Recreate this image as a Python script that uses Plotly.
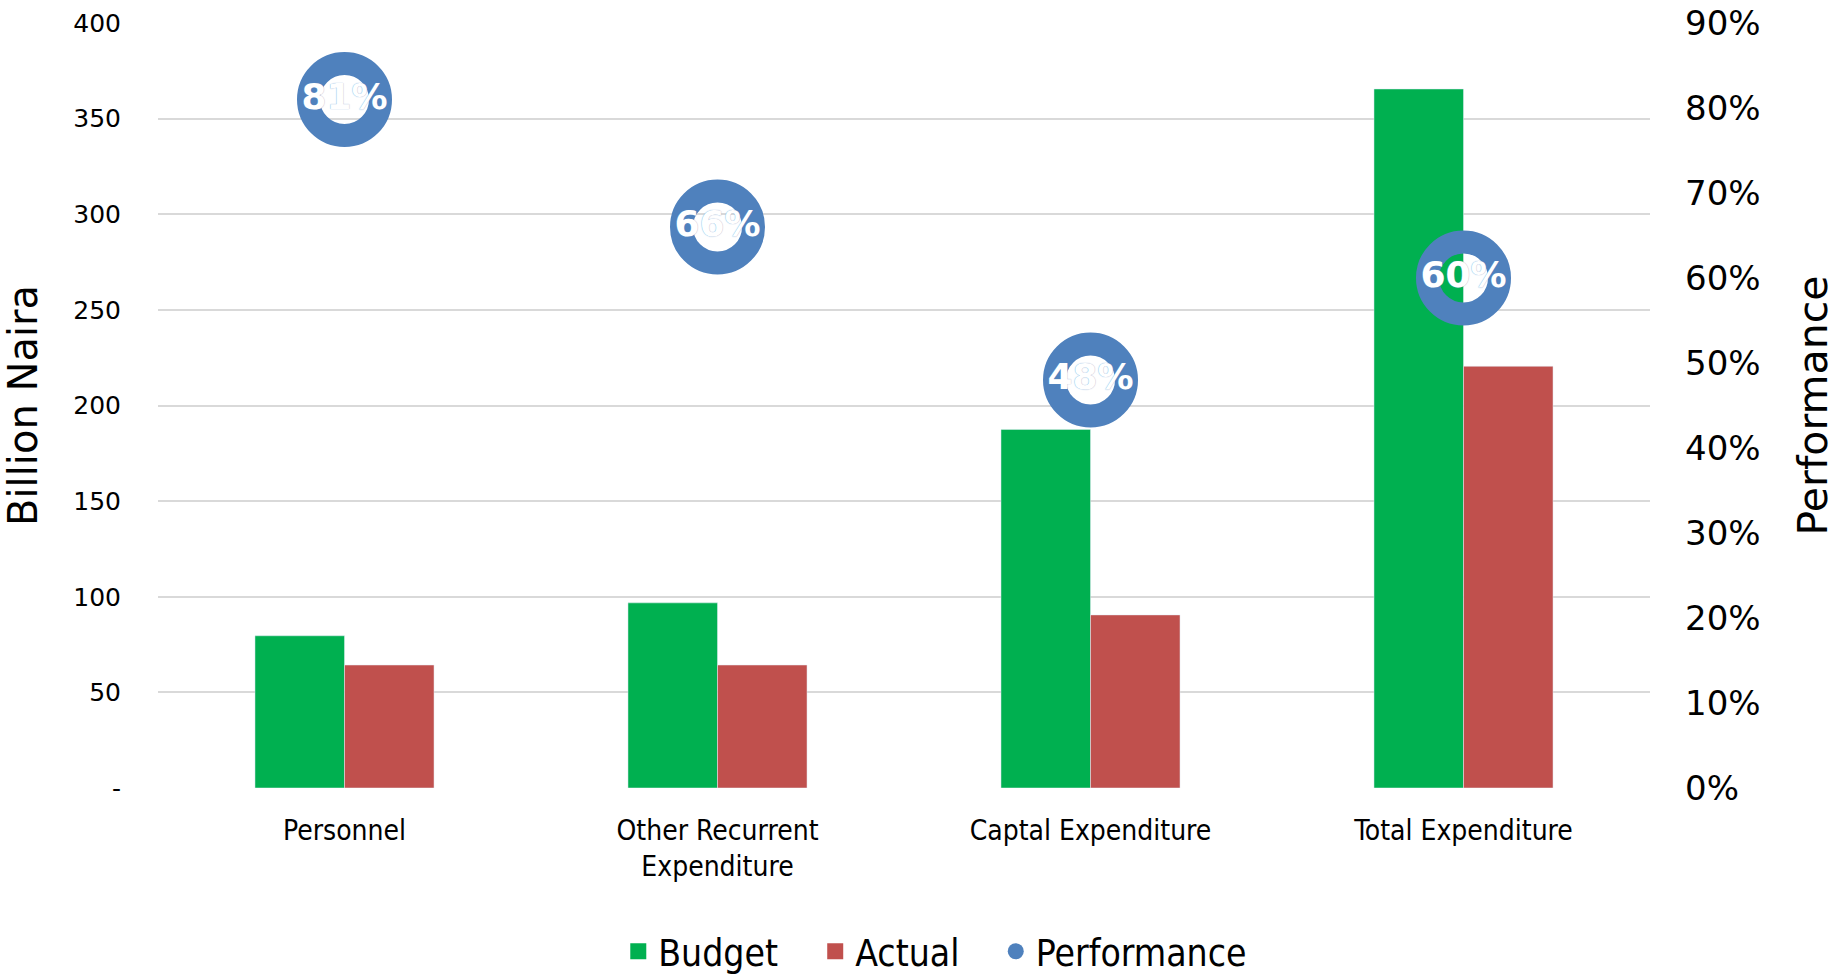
import plotly.graph_objects as go

# Expenditure categories and values (billion Naira)
categories = ["Personnel", "Other Recurrent<br>Expenditure", "Captal Expenditure", "Total Expenditure"]
budget = [79.6, 96.8, 187.5, 365.5]
actual = [64.3, 64.3, 90.5, 220.5]
performance = [0.81, 0.66, 0.48, 0.60]

left_tickvals = [0, 50, 100, 150, 200, 250, 300, 350, 400]
left_ticktext = ["-", "50", "100", "150", "200", "250", "300", "350", "400"]
right_tickvals = [0, 0.1, 0.2, 0.3, 0.4, 0.5, 0.6, 0.7, 0.8, 0.9]

GREEN = "#00B050"
RED = "#C0504D"
BLUE = "#4F81BD"
GRID = "#D9D9D9"
FONT = "DejaVu Sans, Verdana, sans-serif"
NARROW = "DejaVu Sans Condensed, Liberation Sans Narrow, DejaVu Sans, sans-serif"

perf_text = [f"{p:.0%}" for p in performance]

fig = go.Figure()
fig.add_trace(go.Bar(name="Budget", x=categories, y=budget, marker_color=GREEN, showlegend=False))
fig.add_trace(go.Bar(name="Actual", x=categories, y=actual, marker_color=RED, showlegend=False))

# Performance ratio as hollow rings on the secondary axis
fig.add_trace(go.Scatter(
    name="Performance", x=categories, y=performance, yaxis="y2",
    mode="markers+text", text=perf_text, textposition="middle center",
    textfont=dict(color="white", size=36, family=FONT, weight="bold",
                  shadow="0px 0px 1px #6b95c9"),
    marker=dict(symbol="circle-open", size=72, color=BLUE, line=dict(width=23, color=BLUE)),
    showlegend=False, cliponaxis=False,
))

# Legend entries, one legend box per entry so the spacing can be set freely
legend_items = [("Budget", GREEN, "square", "legend", 0.3085),
                ("Actual", RED, "square", "legend2", 0.4405),
                ("Performance", BLUE, "circle", "legend3", 0.5615)]
legend_layout = {}
for nm, col, sym, lg, lx in legend_items:
    fig.add_trace(go.Scatter(
        name=nm, x=[None], y=[None], mode="markers", legend=lg,
        marker=dict(symbol=sym, size=16, color=col),
    ))
    legend_layout[lg] = dict(
        orientation="h", x=lx, xanchor="left", y=-0.214, yanchor="middle",
        font=dict(size=37, family=NARROW, color="#000"), itemsizing="trace",
        bgcolor="rgba(0,0,0,0)",
    )

fig.update_layout(
    width=1837, height=976,
    margin=dict(l=158, r=187, t=23, b=188, autoexpand=False),
    paper_bgcolor="white", plot_bgcolor="white",
    barmode="group", bargap=0.52, bargroupgap=0,
    font=dict(family=FONT, color="#000000"),
    xaxis=dict(
        type="category", showgrid=False, showline=False, zeroline=False,
        tickfont=dict(size=28, family=NARROW, color="#000"),
        ticks="", ticklabelstandoff=23, automargin=False,
    ),
    yaxis=dict(
        range=[0, 400], tickvals=left_tickvals, ticktext=left_ticktext,
        showgrid=True, gridcolor=GRID, gridwidth=2, zeroline=False, showline=False,
        tickfont=dict(size=25, color="#000"), ticks="", ticklabelstandoff=36,
        title=dict(text="Billion Naira", font=dict(size=40, color="#000"), standoff=32),
        automargin=False,
    ),
    yaxis2=dict(
        range=[0, 0.9], tickvals=right_tickvals, tickformat=".0%",
        overlaying="y", side="right", showgrid=False, zeroline=False, showline=False,
        tickfont=dict(size=34, color="#000"), ticks="", ticklabelstandoff=34,
        title=dict(text="Performance", font=dict(size=41, color="#000"), standoff=38),
        automargin=False,
    ),
    **legend_layout,
)

fig.write_html("out.html")
